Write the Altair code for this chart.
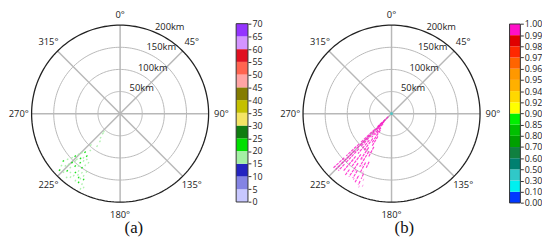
import altair as alt
import pandas as pd
import numpy as np

# ---------------- data ----------------
ring_km = [50, 100, 150, 200]
ring_labels = ["50km", "100km", "150km", "200km"]
spoke_az = [0, 45, 90, 135]
angle_az = [0, 45, 90, 135, 180, 225, 270, 315]
angle_text = ["0°", "45°", "90°", "135°", "180°", "225°", "270°", "315°"]
angle_r = [222, 229, 229, 229, 229, 229, 229, 229]

# panel (a): reflectivity echoes (azimuth deg, range km, dBZ)
a_az = [227.5, 226.6, 225.6, 224.3, 222.3, 223.4, 219.7, 218.1, 225.5, 224.5,
        223.5, 219.1, 217.7, 216.0, 222.7, 220.6, 218.5, 215.2, 214.0, 212.8,
        222.8, 220.2, 217.2, 215.9, 212.9, 216.8, 213.0, 210.4, 213.7, 211.1,
        208.4, 206.3, 207.8, 216.0, 221.0, 215.3, 230.2, 226.3, 228.5, 224.0,
        220.0, 210.0, 219.0, 223.0, 222.0, 219.0, 229.0, 227.0, 221.5, 218.0,
        214.5, 211.5, 209.0]
a_rng = [145.5, 137.6, 129.6, 121.8, 115.6, 140.0, 127.6, 120.0, 161.0, 153.0,
         145.0, 141.0, 133.0, 126.0, 164.0, 154.0, 149.0, 147.5, 139.0, 130.0,
         174.0, 172.0, 165.0, 158.0, 157.0, 173.0, 170.0, 161.0, 180.0, 179.5,
         179.0, 184.0, 190.0, 75.5, 57.5, 88.0, 165.0, 169.0, 175.0, 182.0,
         186.0, 150.0, 105.0, 95.0, 53.0, 68.0, 155.0, 185.0, 133.0, 180.0,
         166.0, 170.0, 168.0]
a_val = [17, 22, 17, 17, 22, 17, 17, 22, 17, 22,
         17, 22, 17, 17, 17, 22, 17, 22, 17, 17,
         22, 17, 22, 17, 17, 17, 22, 17, 17, 22,
         17, 17, 17, 17, 17, 17, 22, 17, 17, 17,
         17, 17, 17, 17, 17, 17, 17, 22, 22, 17,
         17, 17, 22]

# panel (b): radial echo streaks (azimuth deg, start km, end km, value)
b_az = [227, 227, 227, 227, 225, 225, 225, 225, 223, 223, 223, 223,
        220, 220, 220, 217, 217, 217, 217, 214, 214, 214,
        211, 211, 211, 208, 208, 208, 205, 205, 205]
b_r0 = [10, 52, 100, 146, 20, 68, 118, 165, 25, 58, 108, 156,
        30, 78, 126, 40, 70, 115, 158, 45, 92, 135,
        60, 100, 150, 85, 125, 160, 120, 150, 168]
b_r1 = [45, 95, 140, 180, 60, 110, 160, 178, 50, 100, 150, 176,
        70, 118, 170, 60, 105, 150, 174, 80, 125, 172,
        85, 140, 170, 110, 150, 176, 135, 162, 178]
b_val = [1.0] * len(b_az)
b_faint_az = [223.8, 201.8, 207.8, 219.4, 229.0, 227.0, 222.0, 204.0, 210.0, 213.0,
              206.0, 209.5, 203.0, 215.5, 212.5]
b_faint_rng = [115, 173, 157, 136, 32, 18, 53, 178, 168, 120,
               145, 132, 160, 98, 150]
b_faint_val = [0.995] * len(b_faint_az)
b_center_val = [0.4]

# colour bars
cbar_a_ticks = [0, 5, 10, 15, 20, 25, 30, 35, 40, 45, 50, 55, 60, 65, 70]
cbar_a_colors = ["#c8c8ff", "#8484e4", "#2424c0", "#a4f0a4", "#00e000", "#107c10",
                 "#f4e464", "#c4c000", "#847c00", "#ffa4a4", "#ff6450", "#e01020",
                 "#d494ff", "#9434ff"]
cbar_b_labels = ["0.00", "0.10", "0.30", "0.50", "0.60", "0.70", "0.80", "0.85",
                 "0.90", "0.92", "0.94", "0.95", "0.96", "0.97", "0.98", "0.99", "1.00"]
cbar_b_colors = ["#0038ff", "#00f0f0", "#30c8c8", "#008070", "#108040", "#00a000",
                 "#00c000", "#00f000", "#ffff00", "#ffd800", "#ffb000", "#ff9800",
                 "#ff6400", "#ff2800", "#e00000", "#ff10c8"]

# ---------------- styling constants ----------------
S = 0.45            # px per km
FONT = "Open Sans"
GRID = "#b8b8b8"
TOP, BOT = 8, 220   # page y of plot area
H = BOT - TOP

a_thr = cbar_a_ticks[1:-1]
b_thr = [float(v) for v in cbar_b_labels[1:-1]]


def polar_panel(left_px, right_px, cx, cy, echo_layers, label, label_dx):
    xdom = [-(cx - left_px) / S, (right_px - cx) / S]
    ydom = [-(BOT - cy) / S, (cy - TOP) / S]
    X = lambda f: alt.X(f, type="quantitative", scale=alt.Scale(domain=xdom, nice=False, zero=False), axis=None)
    Y = lambda f: alt.Y(f, type="quantitative", scale=alt.Scale(domain=ydom, nice=False, zero=False), axis=None)
    X2 = lambda f: alt.X2(f)
    Y2 = lambda f: alt.Y2(f)

    degs = np.arange(0, 361, 2)
    ring_df = pd.DataFrame([(r, d) for r in ring_km for d in degs], columns=["r", "deg"])
    ring_base = alt.Chart(ring_df).transform_calculate(
        x="datum.r*sin(datum.deg*PI/180)", y="datum.r*cos(datum.deg*PI/180)")
    inner = ring_base.transform_filter("datum.r < 200").mark_line(
        color=GRID, strokeWidth=1).encode(x=X("x"), y=Y("y"), detail="r:N", order="deg:Q")
    outer = ring_base.transform_filter("datum.r >= 200").mark_line(
        color="#222222", strokeWidth=1.3).encode(x=X("x"), y=Y("y"), detail="r:N", order="deg:Q")

    spokes = alt.Chart(pd.DataFrame({"az": spoke_az})).transform_calculate(
        xa="200*sin(datum.az*PI/180)", ya="200*cos(datum.az*PI/180)",
        xb="-200*sin(datum.az*PI/180)", yb="-200*cos(datum.az*PI/180)"
    ).mark_rule(color=GRID, strokeWidth=1.5).encode(x=X("xa"), y=Y("ya"), x2=X2("xb"), y2=Y2("yb"))

    ang = alt.Chart(pd.DataFrame({"az": angle_az, "t": angle_text, "r": angle_r})).transform_calculate(
        x="datum.r*sin(datum.az*PI/180)", y="datum.r*cos(datum.az*PI/180)"
    ).mark_text(font=FONT, fontSize=9.5, color="#222222", align="center", baseline="middle").encode(
        x=X("x"), y=Y("y"), text="t:N")

    rl = alt.Chart(pd.DataFrame({"r": ring_km, "t": ring_labels})).transform_calculate(
        x="datum.r*sin(22.5*PI/180)", y="datum.r*cos(22.5*PI/180)"
    ).mark_text(font=FONT, fontSize=9.5, color="#222222", align="left", baseline="bottom", dx=1).encode(
        x=X("x"), y=Y("y"), text="t:N")

    layers = [inner, spokes, outer, rl, ang] + [f(X, Y, X2, Y2) for f in echo_layers]
    return alt.layer(*layers).properties(
        width=right_px - left_px, height=H,
        title=alt.TitleParams(label, orient="bottom", font="Liberation Serif", fontSize=17,
                              fontWeight="normal", color="#111111", offset=1, dx=label_dx))


def echoes_a(X, Y, X2, Y2):
    return alt.Chart(pd.DataFrame({"az": a_az, "r": a_rng, "v": a_val})).transform_calculate(
        x0="datum.r*sin(datum.az*PI/180)", y0="datum.r*cos(datum.az*PI/180)",
        x1="(datum.r+4)*sin(datum.az*PI/180)", y1="(datum.r+4)*cos(datum.az*PI/180)"
    ).mark_rule(strokeWidth=1.3, opacity=0.9).encode(
        x=X("x0"), y=Y("y0"), x2=X2("x1"), y2=Y2("y1"),
        color=alt.Color("v:Q", scale=alt.Scale(type="threshold", domain=a_thr, range=cbar_a_colors), legend=None))


def echoes_b(X, Y, X2, Y2):
    return alt.Chart(pd.DataFrame({"az": b_az, "r0": b_r0, "r1": b_r1, "v": b_val})).transform_calculate(
        x0="datum.r0*sin(datum.az*PI/180)", y0="datum.r0*cos(datum.az*PI/180)",
        x1="datum.r1*sin(datum.az*PI/180)", y1="datum.r1*cos(datum.az*PI/180)"
    ).mark_rule(strokeWidth=1.2, opacity=0.8, strokeDash=[3, 1]).encode(
        x=X("x0"), y=Y("y0"), x2=X2("x1"), y2=Y2("y1"),
        color=alt.Color("v:Q", scale=alt.Scale(type="threshold", domain=b_thr, range=cbar_b_colors), legend=None))


def faint_b(X, Y, X2, Y2):
    return alt.Chart(pd.DataFrame({"az": b_faint_az, "r": b_faint_rng, "v": b_faint_val})).transform_calculate(
        x0="datum.r*sin(datum.az*PI/180)", y0="datum.r*cos(datum.az*PI/180)",
        x1="(datum.r+5)*sin(datum.az*PI/180)", y1="(datum.r+5)*cos(datum.az*PI/180)"
    ).mark_rule(strokeWidth=1, opacity=0.4).encode(
        x=X("x0"), y=Y("y0"), x2=X2("x1"), y2=Y2("y1"),
        color=alt.Color("v:Q", scale=alt.Scale(type="threshold", domain=b_thr, range=cbar_b_colors), legend=None))


def center_b(X, Y, X2, Y2):
    return alt.Chart(pd.DataFrame({"v": b_center_val, "r": [0]})).mark_point(
        filled=True, size=8, opacity=0.8).encode(
        x=X("r"), y=Y("r"),
        color=alt.Color("v:Q", scale=alt.Scale(type="threshold", domain=b_thr, range=cbar_b_colors), legend=None))


def colorbar(lo, hi, colors, ydom, values, label_expr, width):
    df = pd.DataFrame({"lo": lo, "hi": hi, "c": colors})
    ysc = alt.Scale(domain=ydom, nice=False, zero=False)
    axis_kw = dict(orient="right", values=values, title=None, grid=False, domain=False,
                   ticks=True, tickSize=3, tickColor="#333333", tickWidth=1,
                   labelFont=FONT, labelFontSize=9, labelColor="#222222", labelPadding=1,
                   labelOverlap=False, labelBound=False, labelFlush=False)
    if label_expr:
        axis_kw["labelExpr"] = label_expr
    ax = alt.Axis(**axis_kw)
    bars = alt.Chart(df).mark_rect().encode(
        y=alt.Y("lo:Q", scale=ysc, axis=ax), y2="hi:Q",
        color=alt.Color("c:N", scale=None))
    frame = alt.Chart(df).mark_rect(fill="transparent", stroke="#333333", strokeWidth=1).encode(
        y=alt.Y("min(lo):Q", scale=ysc, axis=ax), y2="max(hi):Q")
    return alt.layer(bars, frame).properties(width=width, height=H)


# colorbar A (value units)
pxu_a = (202.3 - 21.0) / 70.0
ca = colorbar(cbar_a_ticks[:-1], cbar_a_ticks[1:], cbar_a_colors,
              [-(BOT - 202.3) / pxu_a, 70 + (21.0 - TOP) / pxu_a], cbar_a_ticks, None, 12)
# colorbar B (equal-height bins)
nb = len(cbar_b_colors)
pxu_b = (203.3 - 21.3) / nb
lab_arr = "[" + ",".join("'%s'" % s for s in cbar_b_labels) + "]"
cb = colorbar(list(range(nb)), list(range(1, nb + 1)), cbar_b_colors,
              [-(BOT - 203.3) / pxu_b, nb + (21.3 - TOP) / pxu_b], list(range(nb + 1)),
              lab_arr + "[datum.value]", 11)

pa = polar_panel(8, 233, 115, 112.5, [echoes_a], "(a)", 8.5)
pb = polar_panel(245, 511, 391, 112.5, [faint_b, echoes_b, center_b], "(b)", 26)

chart = alt.hconcat(pa, ca, pb, cb, spacing=0, bounds="flush").resolve_scale(
    x="independent", y="independent", color="independent"
).properties(padding=0, background="white").configure_view(stroke="transparent", strokeWidth=0)

chart.save("out.html", embed_options={"renderer": "svg", "actions": False})
